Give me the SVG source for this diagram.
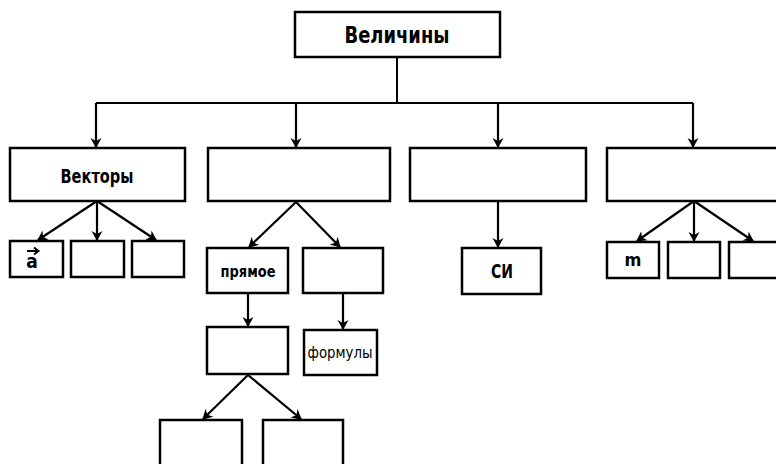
<svg xmlns="http://www.w3.org/2000/svg" width="776" height="464" viewBox="0 0 776 464">
<defs>
<marker id="ah" viewBox="0 0 10 12" refX="9" refY="6" markerWidth="10" markerHeight="12" markerUnits="userSpaceOnUse" orient="auto">
<path d="M0,0.5 L10,6 L0,11.5 L3,6 Z" fill="#000"/>
</marker>
<style>
.box{fill:#fff;stroke:#000;stroke-width:2.5}
.ln{fill:none;stroke:#000;stroke-width:2}
.arr{fill:none;stroke:#000;stroke-width:2.2;marker-end:url(#ah)}
.t{font-family:"Liberation Sans Narrow","DejaVu Sans Condensed","Liberation Sans",sans-serif;text-anchor:middle;fill:#000}
.b{font-weight:bold}
</style>
</defs>
<rect width="776" height="464" fill="#fff"/>
<g id="connectors">
<path class="ln" d="M397,57 V103 M96,103 H693"/>
<path class="arr" d="M96,103 V147"/>
<path class="arr" d="M296,103 V147"/>
<path class="arr" d="M498,103 V147"/>
<path class="arr" d="M693,103 V147"/>
<path class="arr" d="M97,201 L38,240"/>
<path class="arr" d="M97,201 V240"/>
<path class="arr" d="M97,201 L156,240"/>
<path class="arr" d="M296,202 L249,247"/>
<path class="arr" d="M296,202 L340,247"/>
<path class="arr" d="M248,293 V326"/>
<path class="arr" d="M343,293 V329"/>
<path class="arr" d="M248,375 L203,419"/>
<path class="arr" d="M248,375 L301,419"/>
<path class="arr" d="M498,201 V247"/>
<path class="arr" d="M694,201 L637,241"/>
<path class="arr" d="M694,201 V241"/>
<path class="arr" d="M694,201 L753,241"/>
</g>
<g id="n_velichiny"><rect class="box" x="295" y="12" width="205" height="45"/><text class="t b" x="397" y="43" font-size="23" textLength="105" lengthAdjust="spacingAndGlyphs">Величины</text></g>
<g id="n_vektory"><rect class="box" x="10" y="148" width="175" height="53"/><text class="t b" x="97" y="183" font-size="19" textLength="73" lengthAdjust="spacingAndGlyphs">Векторы</text></g>
<g id="n_box2"><rect class="box" x="208" y="148" width="182" height="53"/></g>
<g id="n_box3"><rect class="box" x="410" y="148" width="176" height="53"/></g>
<g id="n_box4"><rect class="box" x="607" y="148" width="180" height="53"/></g>
<g id="n_a"><rect class="box" x="10" y="241" width="53" height="36"/><text class="t b" x="32" y="268" font-size="19">a</text><path class="ln" d="M27,251 H38 M34,247.5 L38.5,251 L34,254.5" stroke-width="1.6"/></g>
<g id="n_v2"><rect class="box" x="71" y="241" width="53" height="36"/></g>
<g id="n_v3"><rect class="box" x="132" y="241" width="52" height="36"/></g>
<g id="n_pryamoe"><rect class="box" x="207" y="248" width="81" height="45"/><text class="t b" x="248" y="277" font-size="16" textLength="55" lengthAdjust="spacingAndGlyphs">прямое</text></g>
<g id="n_b22"><rect class="box" x="303" y="248" width="80" height="45"/></g>
<g id="n_b31"><rect class="box" x="207" y="327" width="81" height="47"/></g>
<g id="n_formuly"><rect class="box" x="304" y="330" width="73" height="45"/><text class="t" x="340" y="358" font-size="16" textLength="65" lengthAdjust="spacingAndGlyphs">формулы</text></g>
<g id="n_b41"><rect class="box" x="160" y="420" width="82" height="60"/></g>
<g id="n_b42"><rect class="box" x="263" y="420" width="80" height="60"/></g>
<g id="n_si"><rect class="box" x="462" y="248" width="79" height="46"/><text class="t b" x="502" y="278" font-size="19" textLength="22" lengthAdjust="spacingAndGlyphs">СИ</text></g>
<g id="n_m"><rect class="box" x="607" y="242" width="52" height="36"/><text class="t b" x="633" y="266" font-size="18">m</text></g>
<g id="n_m2"><rect class="box" x="668" y="242" width="52" height="36"/></g>
<g id="n_m3"><rect class="box" x="729" y="242" width="60" height="36"/></g>
</svg>
